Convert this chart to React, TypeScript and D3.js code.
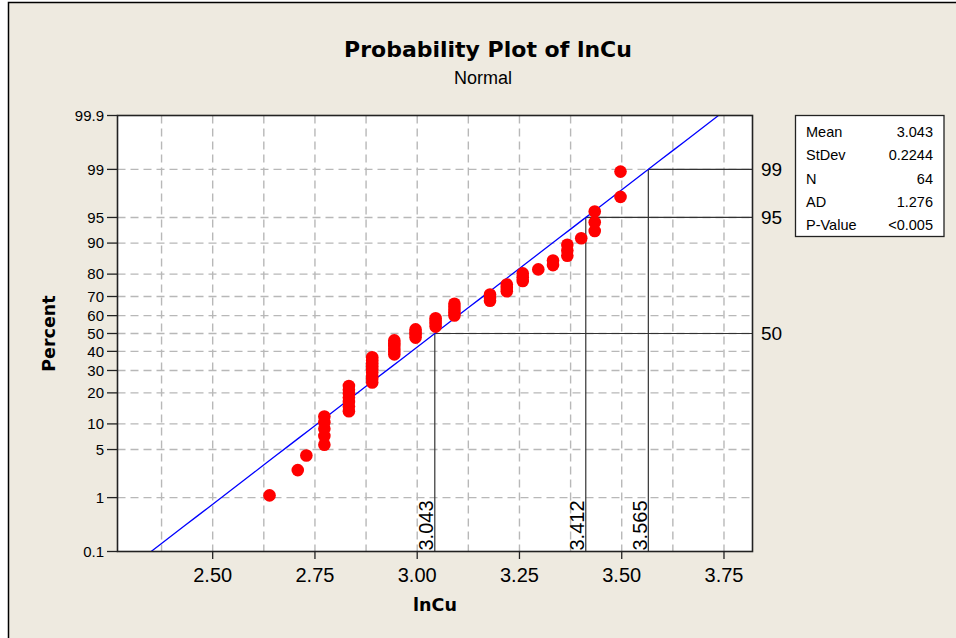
import React from "react";
import * as d3 from "d3";

// ---- data (lnCu values, sorted) ----
const lnCu: number[] = [
  2.639, 2.708, 2.729,
  2.773, 2.773, 2.773, 2.773, 2.773,
  2.833, 2.833, 2.833, 2.833, 2.833, 2.833, 2.833,
  2.890, 2.890, 2.890, 2.890, 2.890, 2.890, 2.890, 2.890, 2.890,
  2.944, 2.944, 2.944, 2.944, 2.944, 2.944,
  2.996, 2.996, 2.996, 2.996,
  3.045, 3.045, 3.045, 3.045,
  3.091, 3.091, 3.091, 3.091, 3.091,
  3.178, 3.178, 3.178,
  3.219, 3.219, 3.219,
  3.258, 3.258, 3.258,
  3.296,
  3.332, 3.332,
  3.367, 3.367, 3.367,
  3.401,
  3.434, 3.434, 3.434,
  3.497, 3.497,
];

const mean = 3.043;
const stdev = 0.2244;

const yTicks: number[] = [0.1, 1, 5, 10, 20, 30, 40, 50, 60, 70, 80, 90, 95, 99, 99.9];
const yTickLabels: string[] = ["0.1", "1", "5", "10", "20", "30", "40", "50", "60", "70", "80", "90", "95", "99", "99.9"];
const yGrid: number[] = [1, 5, 10, 20, 30, 40, 50, 60, 70, 80, 90, 95, 99];
const xTicks: number[] = [2.5, 2.75, 3.0, 3.25, 3.5, 3.75];
const xGrid: number[] = [2.375, 2.5, 2.625, 2.75, 2.875, 3.0, 3.125, 3.25, 3.375, 3.5, 3.625, 3.75];
const refPercents: number[] = [50, 95, 99];
const refLabels: string[] = ["3.043", "3.412", "3.565"];

const legendLabels: string[] = ["Mean", "StDev", "N", "AD", "P-Value"];
const legendValues: string[] = ["3.043", "0.2244", "64", "1.276", "<0.005"];

// inverse standard normal CDF (Acklam)
function probit(p: number): number {
  const a = [-39.69683028665376, 220.9460984245205, -275.9285104469687, 138.357751867269, -30.66479806614716, 2.506628277459239];
  const b = [-54.47609879822406, 161.5858368580409, -155.6989798598866, 66.80131188771972, -13.28068155288572];
  const c = [-0.007784894002430293, -0.3223964580411365, -2.400758277161838, -2.549732539343734, 4.374664141464968, 2.938163982698783];
  const dd = [0.007784695709041462, 0.3224671290700398, 2.445134137142996, 3.754408661907416];
  const pl = 0.02425;
  let q, r;
  if (p < pl) {
    q = Math.sqrt(-2 * Math.log(p));
    return (((((c[0] * q + c[1]) * q + c[2]) * q + c[3]) * q + c[4]) * q + c[5]) / ((((dd[0] * q + dd[1]) * q + dd[2]) * q + dd[3]) * q + 1);
  } else if (p <= 1 - pl) {
    q = p - 0.5;
    r = q * q;
    return (((((a[0] * r + a[1]) * r + a[2]) * r + a[3]) * r + a[4]) * r + a[5]) * q / (((((b[0] * r + b[1]) * r + b[2]) * r + b[3]) * r + b[4]) * r + 1);
  } else {
    q = Math.sqrt(-2 * Math.log(1 - p));
    return -(((((c[0] * q + c[1]) * q + c[2]) * q + c[3]) * q + c[4]) * q + c[5]) / ((((dd[0] * q + dd[1]) * q + dd[2]) * q + dd[3]) * q + 1);
  }
}

const W = 956, H = 638;
const L = 117.5, R = 752.5, T = 115.5, B = 551.5;

export default function App() {
  const zMax = probit(0.999);
  const x = d3.scaleLinear().domain([2.2673, 3.8197]).range([L, R]);
  const yz = d3.scaleLinear().domain([-zMax, zMax]).range([B, T]);
  const yp = (pct: number) => yz(probit(pct / 100));
  const n = lnCu.length;
  const pts = lnCu.map((v, i) => ({ v, p: ((i + 1 - 0.3) / (n + 0.4)) * 100 }));

  // fitted line
  const zLo = -zMax, zHi = zMax;
  const fit: [number, number][] = [];
  for (let k = 0; k <= 50; k++) {
    const z = zLo + ((zHi - zLo) * k) / 50;
    const xv = mean + stdev * z;
    if (x(xv) >= L && x(xv) <= R) fit.push([x(xv), yz(z)]);
  }
  const lineGen = d3.line<[number, number]>().x((d) => d[0]).y((d) => d[1]);

  const sans = "'Liberation Sans', Arial, sans-serif";
  const bold = "'DejaVu Sans', Verdana, sans-serif";

  return (
    <svg width={W} height={H} style={{ position: "absolute", left: 0, top: 0 }}>
      <rect x={0} y={0} width={W} height={H} fill="#ffffff" />
      <rect x={8.5} y={2.5} width={W} height={H} fill="#EEEAE0" stroke="#000" strokeWidth={1.5} />
      <text x={488} y={57} textAnchor="middle" fontFamily={bold} fontWeight="bold" fontSize={22} fill="#000">Probability Plot of lnCu</text>
      <text x={483} y={84} textAnchor="middle" fontFamily={sans} fontSize={18} fill="#000">Normal</text>

      <rect x={L} y={T} width={R - L} height={B - T} fill="#fff" />
      {/* grid */}
      {xGrid.map((g) => (
        <line key={"xg" + g} x1={x(g)} x2={x(g)} y1={T} y2={B} stroke="#b8b8b8" strokeWidth={1.4} strokeDasharray="8,5" />
      ))}
      {yGrid.map((g) => (
        <line key={"yg" + g} x1={L} x2={R} y1={yp(g)} y2={yp(g)} stroke="#b8b8b8" strokeWidth={1.4} strokeDasharray="8,5" />
      ))}

      {/* reference lines */}
      {refPercents.map((p, i) => {
        const xv = mean + stdev * probit(p / 100);
        return (
          <g key={"ref" + p}>
            <line x1={x(xv)} x2={x(xv)} y1={B} y2={yp(p)} stroke="#333" strokeWidth={1.2} />
            <line x1={x(xv)} x2={R} y1={yp(p)} y2={yp(p)} stroke="#333" strokeWidth={1.2} />
            <text transform={`translate(${x(xv) - 1.5},${B - 1}) rotate(-90)`} fontFamily={sans} fontSize={20} fill="#000">{refLabels[i]}</text>
            <text x={761} y={yp(p)} dy="0.35em" fontFamily={sans} fontSize={19} fill="#000">{String(p)}</text>
          </g>
        );
      })}

      {/* fitted line */}
      <path d={lineGen(fit) || ""} fill="none" stroke="#0000ff" strokeWidth={1.3} />

      {/* points */}
      {pts.map((d, i) => (
        <circle key={"pt" + i} cx={x(d.v)} cy={yp(d.p)} r={6.3} fill="#ff0000" />
      ))}

      {/* frame */}
      <rect x={L} y={T} width={R - L} height={B - T} fill="none" stroke="#222" strokeWidth={1.6} />

      {/* y axis */}
      {yTicks.map((t, i) => (
        <g key={"yt" + t}>
          <line x1={107} x2={L} y1={yp(t)} y2={yp(t)} stroke="#222" strokeWidth={1.3} />
          <text x={104} y={yp(t)} dy="0.35em" textAnchor="end" fontFamily={sans} fontSize={15} fill="#000">{yTickLabels[i]}</text>
        </g>
      ))}
      {/* x axis */}
      {xTicks.map((t) => (
        <g key={"xt" + t}>
          <line x1={x(t)} x2={x(t)} y1={B} y2={559} stroke="#222" strokeWidth={1.3} />
          <text x={x(t)} y={582} textAnchor="middle" fontFamily={sans} fontSize={20} fill="#000">{d3.format(".2f")(t)}</text>
        </g>
      ))}
      <text x={(L + R) / 2} y={611} textAnchor="middle" fontFamily={bold} fontWeight="bold" fontSize={17.5} fill="#000">lnCu</text>
      <text transform={`translate(55,${(T + B) / 2}) rotate(-90)`} textAnchor="middle" fontFamily={bold} fontWeight="bold" fontSize={17.5} fill="#000">Percent</text>

      {/* legend */}
      <rect x={795.5} y={115.5} width={148.5} height={121} fill="#fff" stroke="#222" strokeWidth={1.3} />
      {legendLabels.map((lab, i) => (
        <g key={"lg" + i}>
          <text x={806} y={137 + i * 23.3} fontFamily={sans} fontSize={14.5} fill="#000">{lab}</text>
          <text x={933} y={137 + i * 23.3} textAnchor="end" fontFamily={sans} fontSize={14.5} fill="#000">{legendValues[i]}</text>
        </g>
      ))}
    </svg>
  );
}
